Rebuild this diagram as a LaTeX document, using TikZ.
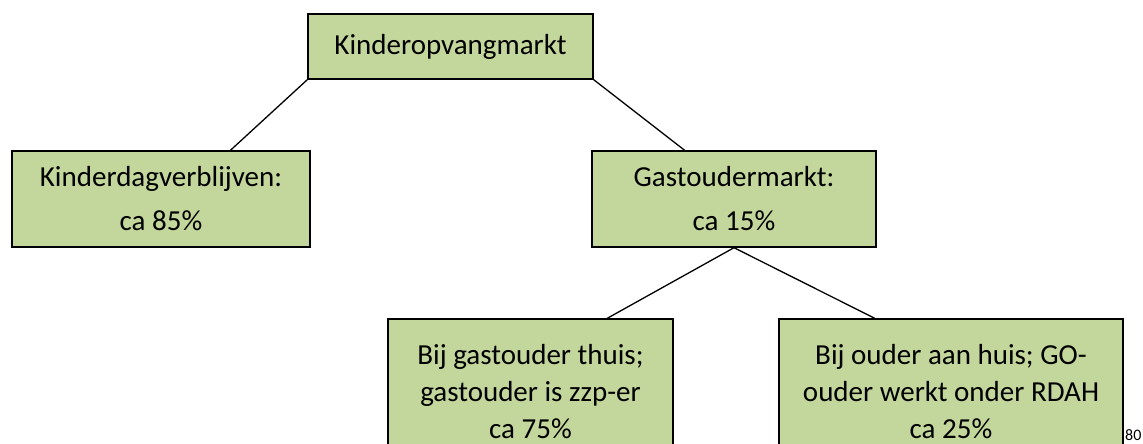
\documentclass[tikz,border=0pt]{standalone}
\usepackage{fontspec}
\setmainfont{Carlito}
\usetikzlibrary{calc}
\definecolor{boxgreen}{HTML}{C3D69B}
\begin{document}
\begin{tikzpicture}[x=1pt,y=-1pt,
  box/.style={draw=black, fill=boxgreen, line width=1.4pt, rectangle, inner sep=0pt, align=center, font=\fontsize{29}{44}\selectfont},
  lowbox/.style={box, font=\fontsize{29}{37}\selectfont},
  link/.style={draw=black, line width=1.3pt}]
\useasboundingbox (0,0) rectangle (1143,444);
\clip (0,0) rectangle (1143,444);
\node[box, minimum width=285pt, minimum height=65pt] (markt) at (450.5,46.5) {Kinderopvangmarkt};
\node[box, minimum width=298pt, minimum height=96pt] (kdv) at (161,199) {Kinderdagverblijven:\\ca 85\%};
\node[box, minimum width=284pt, minimum height=96pt] (gom) at (734,199) {Gastoudermarkt:\\ca 15\%};
\node[lowbox, minimum width=285pt, minimum height=146pt] (thuis) at (530.5,392) {Bij gastouder thuis;\\gastouder is zzp-er\\ca 75\%};
\node[lowbox, minimum width=344pt, minimum height=146pt] (huis) at (951,392) {Bij ouder aan huis; GO-\\ouder werkt onder RDAH\\ca 25\%};
\draw[link] (markt.south west) -- ($(kdv.north west)!0.732!(kdv.north east)$);
\draw[link] (markt.south east) -- ($(gom.north west)!0.327!(gom.north east)$);
\draw[link] (gom.south) -- ($(thuis.north west)!0.768!(thuis.north east)$);
\draw[link] (gom.south) -- ($(huis.north west)!0.279!(huis.north east)$);
\node[anchor=base west, inner sep=0pt, font=\fontsize{16}{16}\selectfont] (pnum) at (1125,440.5) {80};
\end{tikzpicture}
\end{document}
